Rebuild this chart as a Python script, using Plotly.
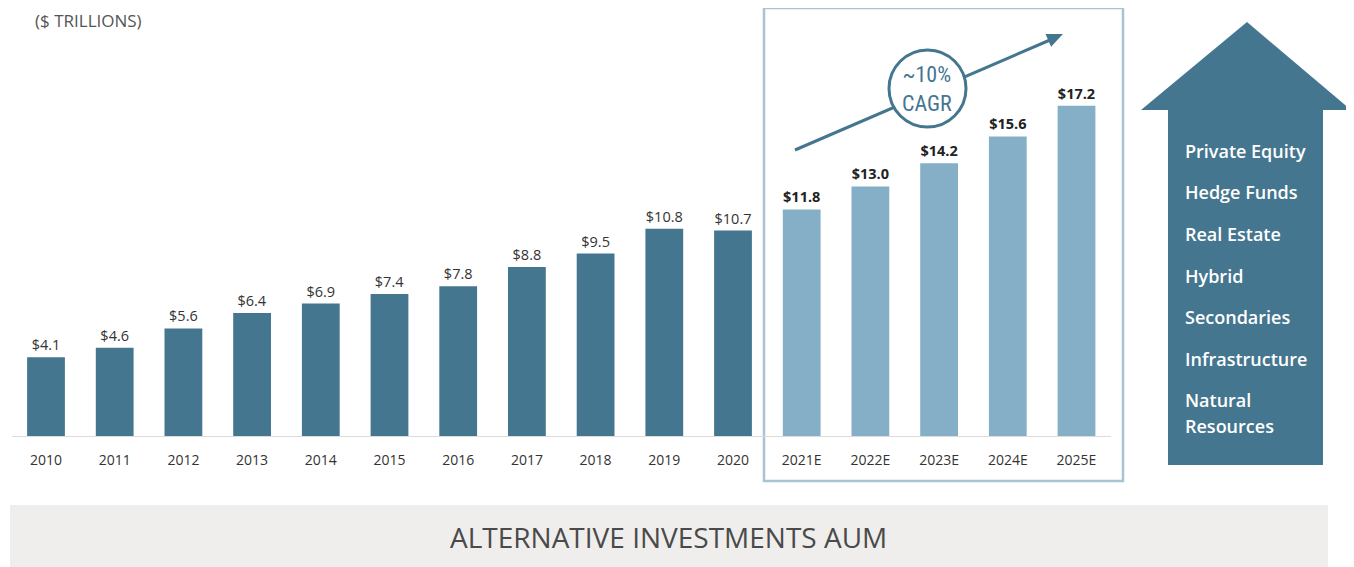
import plotly.graph_objects as go

W, H = 1354, 567
OFF = 8  # page body margin

years = ["2010", "2011", "2012", "2013", "2014", "2015", "2016", "2017", "2018", "2019", "2020",
         "2021E", "2022E", "2023E", "2024E", "2025E"]
aum = [4.1, 4.6, 5.6, 6.4, 6.9, 7.4, 7.8, 8.8, 9.5, 10.8, 10.7, 11.8, 13.0, 14.2, 15.6, 17.2]
is_estimate = [False] * 11 + [True] * 5
strategies = ["Private Equity", "Hedge Funds", "Real Estate", "Hybrid", "Secondaries",
              "Infrastructure", "Natural", "Resources"]

DARK = "#44768F"
LIGHT = "#84AFC6"


def fx(p):
    return (p - OFF) / W


def fy(p):
    return 1 - (p - OFF) / H


colors = [LIGHT if e else DARK for e in is_estimate]
texts = [("<b>$%.1f</b>" if e else "$%.1f") % v for v, e in zip(aum, is_estimate)]
tcolors = ["#222222" if e else "#333333" for e in is_estimate]

fig = go.Figure()
fig.add_trace(go.Bar(
    x=years, y=aum, width=0.55,
    marker=dict(color=colors, line=dict(width=0)),
    text=texts, textposition="outside", cliponaxis=False,
    textfont=dict(size=14.5, color=tcolors, family="Open Sans"),
    hoverinfo="x+y",
))

shapes = []
shapes.append(dict(type="rect", xref="paper", yref="paper",
                   x0=fx(764), x1=fx(1123), y0=fy(8), y1=fy(481),
                   line=dict(color="#A9C4D1", width=2.5), fillcolor="rgba(0,0,0,0)", layer="below"))
shapes.append(dict(type="rect", xref="paper", yref="paper",
                   x0=fx(10), x1=fx(1328), y0=fy(505), y1=fy(580),
                   line=dict(width=0), fillcolor="#EFEEEC", layer="below"))
pts = [(1168, 465), (1168, 110), (1141, 110), (1247, 22), (1351, 110), (1323, 110), (1323, 465)]
path = "M " + " L ".join("%.5f,%.5f" % (fx(a), fy(b)) for a, b in pts) + " Z"
shapes.append(dict(type="path", xref="paper", yref="paper", path=path,
                   line=dict(width=0), fillcolor=DARK, layer="above"))
shapes.append(dict(type="line", xref="paper", yref="paper",
                   x0=fx(795), y0=fy(150), x1=fx(1050), y1=fy(40),
                   line=dict(color=DARK, width=3), layer="above"))
head = [(1063, 34), (1051.1, 46.7), (1045.5, 33.9)]
hpath = "M " + " L ".join("%.5f,%.5f" % (fx(a), fy(b)) for a, b in head) + " Z"
shapes.append(dict(type="path", xref="paper", yref="paper", path=hpath,
                   line=dict(width=0), fillcolor=DARK, layer="above"))
shapes.append(dict(type="circle", xref="paper", yref="paper",
                   x0=fx(889), x1=fx(966), y0=fy(50), y1=fy(127),
                   line=dict(color=DARK, width=3), fillcolor="white", layer="above"))

annotations = [
    dict(text="($ TRILLIONS)", x=fx(33), y=fy(21), xref="paper", yref="paper",
         xanchor="left", yanchor="middle", showarrow=False,
         font=dict(size=17, color="#555555", family="Open Sans")),
    dict(text="ALTERNATIVE INVESTMENTS AUM", x=fx(668), y=fy(537), xref="paper", yref="paper",
         xanchor="center", yanchor="middle", showarrow=False,
         font=dict(size=28, color="#4A4A4A", family="Open Sans")),
    dict(text="~10%<br>CAGR", x=fx(927), y=fy(89), xref="paper", yref="paper",
         xanchor="center", yanchor="middle", showarrow=False,
         font=dict(size=22, color=DARK, family="Liberation Sans Narrow, Roboto Condensed, Roboto, sans-serif")),
]
label_y = [151, 192, 234, 276, 317, 359, 400, 426]
for s, yy in zip(strategies, label_y):
    annotations.append(dict(text=s, x=fx(1183), y=fy(yy), xref="paper", yref="paper",
                            xanchor="left", yanchor="middle", showarrow=False, align="left",
                            font=dict(size=18, color="white", family="Open Sans", weight=600)))

plot_left = 46 - 68.7 / 2
plot_right = 46 + 68.7 * 15 + 68.7 / 2
fig.update_layout(
    width=W, height=H,
    margin=dict(l=0, r=0, t=0, b=0),
    paper_bgcolor="white", plot_bgcolor="white",
    showlegend=False,
    shapes=shapes, annotations=annotations,
    xaxis=dict(domain=[fx(plot_left), fx(plot_right)], type="category",
               showline=True, linecolor="#DCDCDC", linewidth=1,
               ticks="outside", ticklen=11, tickcolor="rgba(0,0,0,0)",
               tickfont=dict(size=14, color="#333333", family="Open Sans"),
               showgrid=False, zeroline=False),
    yaxis=dict(domain=[fy(436), fy(52)], range=[0, 20], visible=False,
               showgrid=False, zeroline=False),
    font=dict(family="Open Sans"),
)

fig.write_html("out.html")
